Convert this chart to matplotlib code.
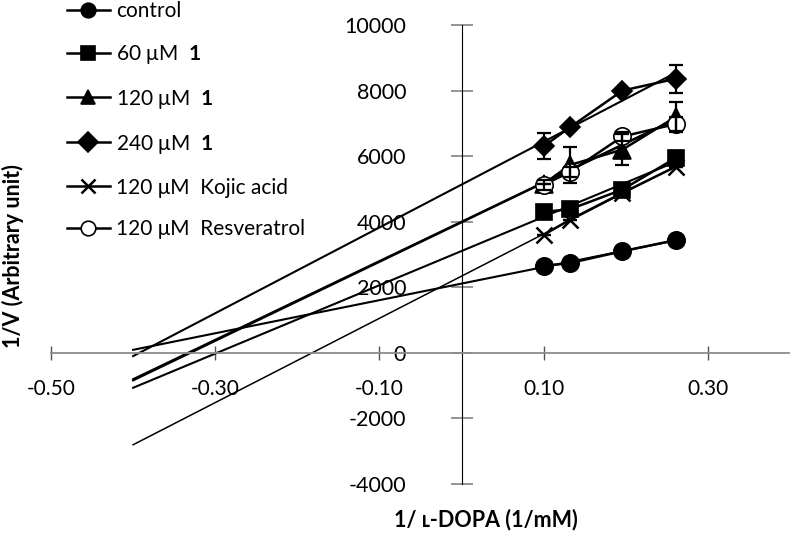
import numpy as np
import matplotlib
matplotlib.use('Agg')
import matplotlib.pyplot as plt

plt.rcParams['font.family'] = ['Lato', 'DejaVu Sans']
plt.rcParams['mathtext.fontset'] = 'custom'
plt.rcParams['mathtext.rm'] = 'Lato'
plt.rcParams['mathtext.bf'] = 'Lato:bold'

# 1/[L-DOPA] (1/mM)
inv_dopa = [0.100, 0.132, 0.196, 0.261]

# 1/V values
control = [2650, 2740, 3100, 3440]
cpd_60 = [4300, 4380, 4980, 5950]
cpd_120 = [5150, 5730, 6200, 7200]
cpd_240 = [6300, 6880, 8000, 8360]
kojic_120 = [3600, 4060, 4880, 5680]
resv_120 = [5120, 5520, 6600, 6980]

err_control = [0, 0, 0, 0]
err_60 = [0, 0, 0, 200]
err_120 = [0, 560, 480, 450]
err_240 = [400, 0, 0, 430]
err_kojic = [0, 0, 0, 0]
err_resv = [150, 150, 150, 200]

labels = ['control', r'60 μM  $\mathbf{1}$', r'120 μM  $\mathbf{1}$', r'240 μM  $\mathbf{1}$',
          '120 μM  Kojic acid', '120 μM  Resveratrol']

x_ticks = [-0.5, -0.3, -0.1, 0.1, 0.3]
y_ticks = [-4000, -2000, 0, 2000, 4000, 6000, 8000, 10000]

series = [
    (control, err_control, 'o', 'black', 12.5, 1.5),
    (cpd_60, err_60, 's', 'black', 11.5, 1.5),
    (cpd_120, err_120, '^', 'black', 12.5, 1.5),
    (cpd_240, err_240, 'D', 'black', 10, 1.5),
    (kojic_120, err_kojic, 'x', 'black', 11, 1.1),
    (resv_120, err_resv, 'o', 'white', 12.5, 1.5),
]

fig = plt.figure(figsize=(7.9, 5.33), dpi=100)
ax = fig.add_axes([51 / 790, 49 / 533, 739 / 790, 459 / 533])

x = np.array(inv_dopa)
for (y, err, marker, face, ms, tlw), lab in zip(series, labels):
    # linear trendline, extended back to -0.4
    k, b = np.polyfit(x, y, 1)
    xt = np.array([-0.4, x.max()])
    ax.plot(xt, k * xt + b, color='black', linewidth=tlw, zorder=2)
    ax.plot(x, y, '-', marker=marker, color='black', markerfacecolor=face,
            markeredgecolor='black', markeredgewidth=1.8 if marker == 'x' else 1.2,
            markersize=ms, linewidth=1.8, label=lab, zorder=3)
    ax.errorbar(x, y, yerr=err, fmt='none', ecolor='black', elinewidth=1.6,
                capsize=5, capthick=1.6, zorder=4)

ax.set_xlim(-0.5, 0.4)
ax.set_ylim(-4000, 10000)

for s in ['top', 'right']:
    ax.spines[s].set_visible(False)
ax.spines['left'].set_position(('data', 0))
ax.spines['bottom'].set_position(('data', 0))
ax.spines['left'].set_color('black')
ax.spines['bottom'].set_color('#8c8c8c')
ax.spines['bottom'].set_linewidth(1.3)

ax.set_xticks(x_ticks, ['%.2f' % v for v in x_ticks])
ax.set_yticks(y_ticks, [str(v) for v in y_ticks])
ax.tick_params(axis='x', direction='inout', length=10, width=1, color='#555555',
               labelsize=15, pad=14)
ax.tick_params(axis='y', direction='inout', length=16, width=1.3, color='#8c8c8c',
               labelsize=15.5, pad=32)

fig.text(13 / 790, 1 - 256 / 533, '1/V (Arbitrary unit)', rotation=90, ha='center',
         va='center', fontsize=15.5, fontweight='bold')
fig.text(486 / 790, 1 - 520 / 533, '1/ ʟ-DOPA (1/mM)', ha='center', va='center',
         fontsize=15.5, fontweight='bold')

handles, labs = ax.get_legend_handles_labels()
leg = fig.legend(handles, labs, loc='upper left', bbox_to_anchor=(67 / 790, 1 - 1 / 533),
                 frameon=False, fontsize=15, numpoints=1, handlelength=2.05,
                 handletextpad=0.3, labelspacing=1.05, borderpad=0, borderaxespad=0)
for h in leg.legend_handles:
    h.set_markersize(10.5)

fig.savefig('out.png', dpi=100)
